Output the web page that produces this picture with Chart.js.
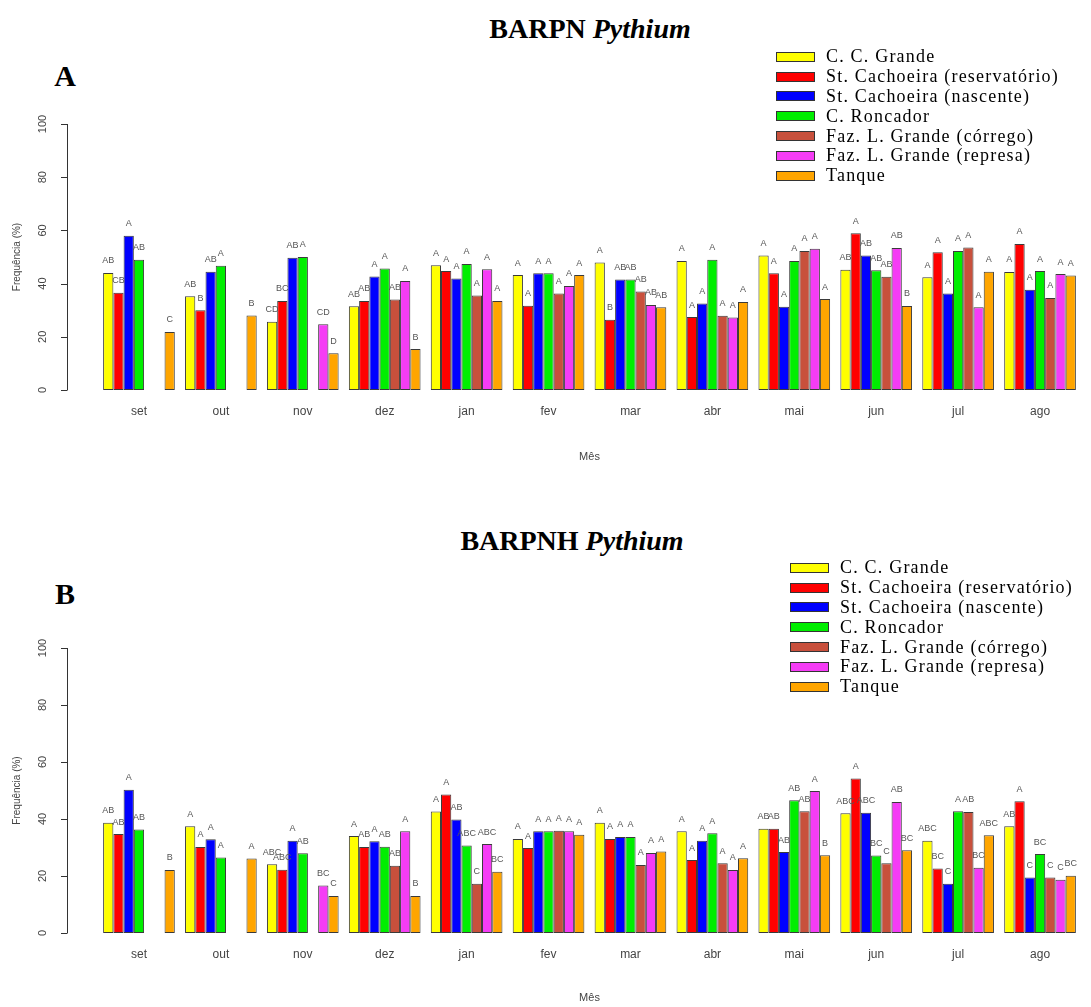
<!DOCTYPE html>
<html>
<head>
<meta charset="utf-8">
<script src="https://cdn.jsdelivr.net/npm/chart.js@4.4.1/dist/chart.umd.min.js"></script>
<style>
  body { margin: 0; background: #fff; width: 1091px; height: 1007px; position: relative; overflow: hidden; }
  canvas { position: absolute; left: 0; }
  .title { position: absolute; transform: translate(-50%, -50%); font-family: 'Liberation Serif', 'Times New Roman', serif; font-weight: bold; font-size: 28px; white-space: nowrap; color: #000; }
  .panelTag { position: absolute; transform: translate(-50%, -50%); font-family: 'Liberation Serif', 'Times New Roman', serif; font-weight: bold; font-size: 30px; color: #000; }
  .legend { position: absolute; font-family: 'Liberation Serif', 'Times New Roman', serif; font-size: 18px; letter-spacing: 1.2px; color: #000; z-index: 2; }
  .legend .row { height: 19.8px; display: flex; align-items: center; white-space: nowrap; }
  .legend .box { width: 37px; height: 8px; border: 1px solid #333; flex: none; }
</style>
</head>
<body>
<div class="title" style="left:590px; top:29px;">BARPN <i>Pythium</i></div>
<div class="panelTag" style="left:65px; top:76px;">A</div>
<div class="legend" id="legendA" style="left:776px; top:47px;"></div>
<canvas id="chartA" width="1091" height="470" style="top:0px;"></canvas>

<div class="title" style="left:572px; top:541px;">BARPNH <i>Pythium</i></div>
<div class="panelTag" style="left:65px; top:594px;">B</div>
<div class="legend" id="legendB" style="left:790px; top:558px;"></div>
<canvas id="chartB" width="1091" height="507" style="top:500px;"></canvas>

<script>
const months = ['set', 'out', 'nov', 'dez', 'jan', 'fev', 'mar', 'abr', 'mai', 'jun', 'jul', 'ago'];
const siteNames = ['C. C. Grande', 'St. Cachoeira (reservatório)', 'St. Cachoeira (nascente)', 'C. Roncador',
  'Faz. L. Grande (córrego)', 'Faz. L. Grande (represa)', 'Tanque'];
const siteColors = ['#ffff00', '#ff0000', '#0000ff', '#00ee00', '#c8503c', '#f53cf5', '#ffa500'];
const yTicks = [0, 20, 40, 60, 80, 100];

// Painel A - BARPN
const aCCGrande = [44, 35.2, 25.7, 31.5, 46.9, 43.2, 47.9, 48.5, 50.6, 45.2, 42.4, 44.4];
const aReservatorio = [36.6, 30, 33.5, 33.5, 44.7, 31.7, 26.4, 27.4, 43.9, 58.9, 51.8, 54.9];
const aNascente = [58, 44.5, 49.7, 42.7, 41.9, 43.9, 41.5, 32.5, 31.3, 50.6, 36.3, 37.7];
const aRoncador = [49, 46.7, 50, 45.7, 47.4, 43.9, 41.5, 49, 48.5, 45, 52.3, 44.7];
const aCorrego = [0, 0, 0, 34, 35.5, 36.3, 37, 27.9, 52.3, 42.6, 53.6, 34.6];
const aRepresa = [0, 0, 24.7, 41, 45.4, 39.1, 32, 27.3, 53.1, 53.4, 31.1, 43.6];
const aTanque = [21.8, 28, 13.8, 15.4, 33.5, 43.2, 31.1, 33.1, 34.2, 31.6, 44.5, 43];

const aCCGrandeLet = ['AB', 'AB', 'CD', 'AB', 'A', 'A', 'A', 'A', 'A', 'AB', 'A', 'A'];
const aReservatorioLet = ['CB', 'B', 'BC', 'AB', 'A', 'A', 'B', 'A', 'A', 'A', 'A', 'A'];
const aNascenteLet = ['A', 'AB', 'AB', 'A', 'A', 'A', 'AB', 'A', 'A', 'AB', 'A', 'A'];
const aRoncadorLet = ['AB', 'A', 'A', 'A', 'A', 'A', 'AB', 'A', 'A', 'AB', 'A', 'A'];
const aCorregoLet = ['', '', '', 'AB', 'A', 'A', 'AB', 'A', 'A', 'AB', 'A', 'A'];
const aRepresaLet = ['', '', 'CD', 'A', 'A', 'A', 'AB', 'A', 'A', 'AB', 'A', 'A'];
const aTanqueLet = ['C', 'B', 'D', 'B', 'A', 'A', 'AB', 'A', 'A', 'B', 'A', 'A'];

// Painel B - BARPNH
const bCCGrande = [38.7, 37.5, 24.1, 34, 42.6, 33, 38.7, 35.7, 36.6, 42, 32.4, 37.5];
const bReservatorio = [34.7, 30.2, 22.2, 30.2, 48.6, 29.8, 33, 25.6, 36.6, 54.2, 22.6, 46.2];
const bNascente = [50.3, 32.9, 32.4, 32.2, 39.8, 35.7, 33.7, 32.4, 28.4, 42.2, 17.3, 19.5];
const bRoncador = [36.3, 26.5, 28, 30.3, 30.7, 35.7, 33.7, 35, 46.6, 27.2, 42.7, 27.7];
const bCorrego = [0, 0, 0, 23.6, 17.3, 35.9, 23.9, 24.5, 42.7, 24.5, 42.5, 19.5];
const bRepresa = [0, 0, 16.7, 35.7, 31.2, 35.7, 28.1, 22.1, 49.8, 46, 22.9, 18.7];
const bTanque = [22.1, 26.1, 13, 13, 21.5, 34.5, 28.6, 26.2, 27.3, 29, 34.3, 20.1];

const bCCGrandeLet = ['AB', 'A', 'ABC', 'A', 'A', 'A', 'A', 'A', 'AB', 'ABC', 'ABC', 'AB'];
const bReservatorioLet = ['AB', 'A', 'ABC', 'AB', 'A', 'A', 'A', 'A', 'AB', 'A', 'BC', 'A'];
const bNascenteLet = ['A', 'A', 'A', 'A', 'AB', 'A', 'A', 'A', 'AB', 'ABC', 'C', 'C'];
const bRoncadorLet = ['AB', 'A', 'AB', 'AB', 'ABC', 'A', 'A', 'A', 'AB', 'BC', 'A', 'BC'];
const bCorregoLet = ['', '', '', 'AB', 'C', 'A', 'A', 'A', 'AB', 'C', 'AB', 'C'];
const bRepresaLet = ['', '', 'BC', 'A', 'ABC', 'A', 'A', 'A', 'A', 'AB', 'BC', 'C'];
const bTanqueLet = ['B', 'A', 'C', 'B', 'BC', 'A', 'A', 'A', 'B', 'BC', 'ABC', 'BC'];

const sansFont = '"Liberation Sans", Arial, sans-serif';

// letras de significancia acima das barras
const letterPlugin = {
  id: 'letters',
  afterDatasetsDraw(chart) {
    const ctx = chart.ctx;
    ctx.save();
    ctx.font = '9px ' + sansFont;
    ctx.fillStyle = '#555';
    ctx.textAlign = 'center';
    ctx.textBaseline = 'middle';
    chart.data.datasets.forEach((ds, i) => {
      chart.getDatasetMeta(i).data.forEach((bar, j) => {
        const t = ds.letters[j];
        if (t) ctx.fillText(t, bar.x, bar.y - 12);
      });
    });
    ctx.restore();
  }
};

// eixo y no estilo do R (afastado da area do grafico, rotulos girados)
const rAxisPlugin = {
  id: 'rAxis',
  afterDraw(chart) {
    const y = chart.scales.y;
    const ctx = chart.ctx;
    const ax = chart.chartArea.left - 31;
    const top = y.getPixelForValue(yTicks[yTicks.length - 1]);
    const bottom = y.getPixelForValue(yTicks[0]);
    ctx.save();
    ctx.strokeStyle = '#333';
    ctx.lineWidth = 1;
    ctx.beginPath();
    ctx.moveTo(ax + 0.5, top);
    ctx.lineTo(ax + 0.5, bottom);
    yTicks.forEach(v => {
      const p = Math.round(y.getPixelForValue(v)) + 0.5;
      ctx.moveTo(ax - 6, p);
      ctx.lineTo(ax + 0.5, p);
    });
    ctx.stroke();
    ctx.fillStyle = '#444';
    ctx.textAlign = 'center';
    ctx.textBaseline = 'middle';
    ctx.font = '11px ' + sansFont;
    yTicks.forEach(v => {
      ctx.save();
      ctx.translate(ax - 24, y.getPixelForValue(v));
      ctx.rotate(-Math.PI / 2);
      ctx.fillText(String(v), 0, 0);
      ctx.restore();
    });
    ctx.font = '10px ' + sansFont;
    ctx.translate(ax - 50, (top + bottom) / 2);
    ctx.rotate(-Math.PI / 2);
    ctx.fillText('Frequência (%)', 0, 0);
    ctx.restore();
  }
};

function buildLegend(id) {
  const el = document.getElementById(id);
  el.innerHTML = siteNames.map((n, i) =>
    `<div class="row"><span class="box" style="background:${siteColors[i]}"></span><span style="margin-left:11px">${n}</span></div>`
  ).join('');
}

function makeChart(canvasId, series, letters, padTop, axisHeight, titlePad) {
  return new Chart(document.getElementById(canvasId), {
    type: 'bar',
    data: {
      labels: months,
      datasets: series.map((s, i) => ({
        label: siteNames[i],
        data: s,
        letters: letters[i],
        backgroundColor: siteColors[i],
        borderColor: '#3a3a3a',
        borderWidth: 1,
        borderSkipped: false,
        categoryPercentage: 0.875,
        barPercentage: 1
      }))
    },
    options: {
      responsive: false,
      animation: false,
      layout: { padding: { top: padTop, left: 98, right: 10, bottom: 0 } },
      plugins: { legend: { display: false }, tooltip: { enabled: false } },
      scales: {
        y: { display: false, min: 0, max: 100 },
        x: {
          grid: { display: false, drawTicks: false },
          border: { display: false },
          ticks: { color: '#444', font: { size: 12, family: sansFont }, padding: 14 },
          title: { display: true, text: 'Mês', color: '#444', font: { size: 11, family: sansFont }, padding: { top: 4, bottom: titlePad } },
          afterFit: scale => { scale.height = axisHeight; }
        }
      }
    },
    plugins: [letterPlugin, rAxisPlugin]
  });
}

buildLegend('legendA');
buildLegend('legendB');

makeChart('chartA',
  [aCCGrande, aReservatorio, aNascente, aRoncador, aCorrego, aRepresa, aTanque],
  [aCCGrandeLet, aReservatorioLet, aNascenteLet, aRoncadorLet, aCorregoLet, aRepresaLet, aTanqueLet],
  124, 80, 6);

makeChart('chartB',
  [bCCGrande, bReservatorio, bNascente, bRoncador, bCorrego, bRepresa, bTanque],
  [bCCGrandeLet, bReservatorioLet, bNascenteLet, bRoncadorLet, bCorregoLet, bRepresaLet, bTanqueLet],
  148, 74, 2);
</script>
</body>
</html>
